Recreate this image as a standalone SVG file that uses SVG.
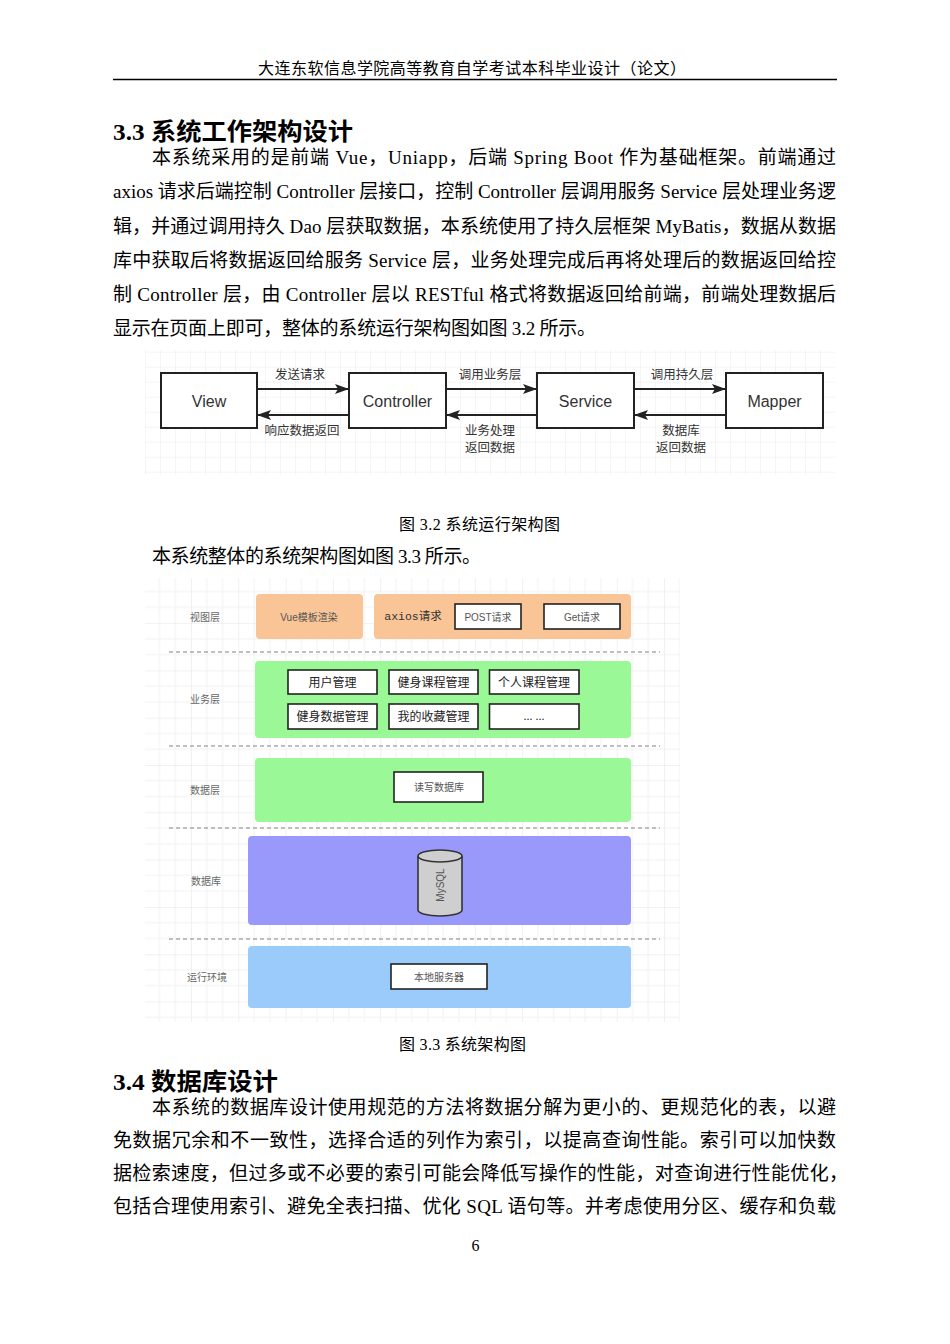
<svg xmlns="http://www.w3.org/2000/svg" width="950" height="1344" viewBox="0 0 950 1344">
<style>
.body{font-family:"Liberation Serif","Noto Sans CJK SC",serif;font-size:19px;fill:#000}
.head{font-family:"Liberation Serif","Noto Sans CJK SC",serif;font-size:24px;font-weight:bold;fill:#000}
.cap{font-family:"Liberation Serif","Noto Sans CJK SC",serif;font-size:16px;fill:#000}
.box{fill:#fff;stroke:#222;stroke-width:2}
.ibox{fill:#fff;stroke:#222;stroke-width:1.6}
.t1{font-family:"Liberation Sans","Noto Sans CJK SC",sans-serif;font-size:16px;fill:#333;text-anchor:middle}
.lbl{font-family:"Liberation Sans","Noto Sans CJK SC",sans-serif;font-size:12.5px;fill:#333;text-anchor:middle}
.conn{stroke:#222;stroke-width:2;fill:none;marker-end:url(#ah)}
.lay{font-family:"Liberation Sans","Noto Sans CJK SC",sans-serif;font-size:10px;fill:#666;text-anchor:middle}
.sm{font-family:"Liberation Sans","Noto Sans CJK SC",sans-serif;font-size:10px;fill:#555;text-anchor:middle}
.biz{font-family:"Liberation Serif","Noto Sans CJK SC",serif;font-size:12px;fill:#222;text-anchor:middle}
.dash{stroke:#aaa;stroke-width:1.5;stroke-dasharray:4 3}
</style>
<defs>
<marker id="ah" viewBox="0 0 14 10" refX="14" refY="5" markerWidth="14" markerHeight="10" markerUnits="userSpaceOnUse" orient="auto">
<path d="M0,0 L14,5 L0,10 L3,5 z" fill="#222"/>
</marker>
<pattern id="g1" x="160" y="441.7" width="15" height="15" patternUnits="userSpaceOnUse">
<path d="M0,0 H15 M0,0 V15" stroke="#ececec" stroke-width="1" fill="none"/>
</pattern>
<pattern id="g2" x="191" y="765" width="47.3" height="47.3" patternUnits="userSpaceOnUse">
<path d="M15.77,0 V47.3 M31.53,0 V47.3 M0,15.77 H47.3 M0,31.53 H47.3" stroke="#f2f2f2" stroke-width="1" fill="none"/>
<path d="M0,0 H47.3 M0,0 V47.3" stroke="#e4e4e4" stroke-width="1" fill="none"/>
</pattern>
</defs>
<rect width="950" height="1344" fill="#fff"/>

<!-- page header -->
<text class="cap" x="258" y="74" textLength="428" lengthAdjust="spacing" font-size="16.5">大连东软信息学院高等教育自学考试本科毕业设计（论文）</text>
<line x1="113" y1="79.5" x2="837" y2="79.5" stroke="#000" stroke-width="1.3"/>

<text class="head" x="113" y="140" textLength="240" lengthAdjust="spacingAndGlyphs">3.3 系统工作架构设计</text>
<text class="body" x="152" y="164" textLength="684" lengthAdjust="spacing">本系统采用的是前端 Vue，Uniapp，后端 Spring Boot 作为基础框架。前端通过</text>
<text class="body" x="113" y="198" textLength="723" lengthAdjust="spacing">axios 请求后端控制 Controller 层接口，控制 Controller 层调用服务 Service 层处理业务逻</text>
<text class="body" x="113" y="232.5" textLength="723" lengthAdjust="spacing">辑，并通过调用持久 Dao 层获取数据，本系统使用了持久层框架 MyBatis，数据从数据</text>
<text class="body" x="113" y="266.5" textLength="723" lengthAdjust="spacing">库中获取后将数据返回给服务 Service 层，业务处理完成后再将处理后的数据返回给控</text>
<text class="body" x="113" y="301" textLength="723" lengthAdjust="spacing">制 Controller 层，由 Controller 层以 RESTful 格式将数据返回给前端，前端处理数据后</text>
<text class="body" x="113" y="335" textLength="483" lengthAdjust="spacing">显示在页面上即可，整体的系统运行架构图如图 3.2 所示。</text>

<!-- figure 3.2 -->
<rect x="145" y="350" width="690" height="125" fill="url(#g1)"/>
<g id="view"><rect class="box" x="161" y="373" width="96" height="55"/><text class="t1" x="209" y="406.5">View</text></g>
<g id="controller"><rect class="box" x="349" y="373" width="97" height="55"/><text class="t1" x="397.5" y="406.5">Controller</text></g>
<g id="service"><rect class="box" x="537" y="373" width="97" height="55"/><text class="t1" x="585.5" y="406.5">Service</text></g>
<g id="mapper"><rect class="box" x="726" y="373" width="97" height="55"/><text class="t1" x="774.5" y="406.5">Mapper</text></g>
<g id="connectors">
<line class="conn" x1="257" y1="389" x2="349" y2="389"/>
<line class="conn" x1="349" y1="415" x2="257" y2="415"/>
<line class="conn" x1="446" y1="389" x2="537" y2="389"/>
<line class="conn" x1="537" y1="415" x2="446" y2="415"/>
<line class="conn" x1="634" y1="389" x2="726" y2="389"/>
<line class="conn" x1="726" y1="415" x2="634" y2="415"/>
<text class="lbl" x="300" y="379">发送请求</text>
<text class="lbl" x="302" y="435">响应数据返回</text>
<text class="lbl" x="490" y="379">调用业务层</text>
<text class="lbl" x="490" y="435">业务处理</text>
<text class="lbl" x="490" y="452">返回数据</text>
<text class="lbl" x="682" y="379">调用持久层</text>
<text class="lbl" x="681" y="435">数据库</text>
<text class="lbl" x="681" y="452">返回数据</text>
</g>

<text class="cap" x="399" y="530" textLength="161" lengthAdjust="spacing">图 3.2 系统运行架构图</text>
<text class="body" x="152" y="563" textLength="329" lengthAdjust="spacing">本系统整体的系统架构图如图 3.3 所示。</text>

<!-- figure 3.3 -->
<rect x="145" y="578" width="535" height="444" fill="url(#g2)"/>
<line class="dash" x1="169" y1="652" x2="660" y2="652"/>
<line class="dash" x1="169" y1="746" x2="660" y2="746"/>
<line class="dash" x1="169" y1="828" x2="660" y2="828"/>
<line class="dash" x1="169" y1="939" x2="660" y2="939"/>

<g id="view-layer">
<text class="lay" x="205" y="621">视图层</text>
<rect x="256" y="594" width="107" height="45" rx="4" fill="#F9C596"/>
<text class="sm" x="309" y="621" fill="#555">Vue模板渲染</text>
<rect x="374" y="594" width="257" height="45" rx="4" fill="#F9C596"/>
<text x="413" y="620" font-family="Liberation Mono,'Noto Sans CJK SC',monospace" font-size="11.5" fill="#333" text-anchor="middle">axios请求</text>
<rect class="ibox" x="455" y="604" width="66" height="25"/>
<text class="sm" x="488" y="620.5" fill="#444">POST请求</text>
<rect class="ibox" x="544" y="604" width="76" height="25"/>
<text class="sm" x="582" y="620.5" fill="#444">Get请求</text>
</g>

<g id="business-layer">
<text class="lay" x="205" y="703">业务层</text>
<rect x="255" y="661" width="376" height="77" rx="4" fill="#9AF996"/>
<rect class="ibox" x="288" y="670" width="89" height="24"/><text class="biz" x="332.5" y="686.5">用户管理</text>
<rect class="ibox" x="389" y="670" width="89" height="24"/><text class="biz" x="433.5" y="686.5">健身课程管理</text>
<rect class="ibox" x="489.5" y="670" width="89.5" height="24"/><text class="biz" x="534" y="686.5">个人课程管理</text>
<rect class="ibox" x="288" y="704" width="89" height="25"/><text class="biz" x="332.5" y="721">健身数据管理</text>
<rect class="ibox" x="389" y="704" width="89" height="25"/><text class="biz" x="433.5" y="721">我的收藏管理</text>
<rect class="ibox" x="489.5" y="704" width="89.5" height="25"/><text class="biz" x="534" y="720" font-size="10">... ...</text>
</g>

<g id="data-layer">
<text class="lay" x="205" y="794">数据层</text>
<rect x="255" y="758" width="376" height="64" rx="4" fill="#9AF996"/>
<rect class="ibox" x="394" y="772" width="89" height="30"/>
<text class="sm" x="439" y="791">读写数据库</text>
</g>

<g id="database">
<text class="lay" x="206" y="885">数据库</text>
<rect x="248" y="836" width="383" height="89" rx="4" fill="#9999FB"/>
<path d="M418,856 V910 A22,6 0 0 0 462,910 V856 A22,6 0 0 0 418,856 Z" fill="#CFCFCF" stroke="#333" stroke-width="1.6"/>
<path d="M418,856 A22,6 0 0 0 462,856" fill="none" stroke="#333" stroke-width="1.6"/>
<text class="sm" transform="translate(443.5,885) rotate(-90)" fill="#444">MySQL</text>
</g>

<g id="runtime">
<text class="lay" x="207" y="981">运行环境</text>
<rect x="248" y="946" width="383" height="62" rx="4" fill="#9ACBFA"/>
<rect class="ibox" x="391" y="964" width="96" height="25"/>
<text class="sm" x="439" y="980.5">本地服务器</text>
</g>

<text class="cap" x="399" y="1050" textLength="127" lengthAdjust="spacing">图 3.3 系统架构图</text>

<text class="head" x="113" y="1090" textLength="165" lengthAdjust="spacingAndGlyphs">3.4 数据库设计</text>
<text class="body" x="152" y="1114" textLength="684" lengthAdjust="spacing">本系统的数据库设计使用规范的方法将数据分解为更小的、更规范化的表，以避</text>
<text class="body" x="113" y="1147" textLength="723" lengthAdjust="spacing">免数据冗余和不一致性，选择合适的列作为索引，以提高查询性能。索引可以加快数</text>
<text class="body" x="113" y="1180" textLength="735" lengthAdjust="spacing">据检索速度，但过多或不必要的索引可能会降低写操作的性能，对查询进行性能优化，</text>
<text class="body" x="113" y="1213" textLength="723" lengthAdjust="spacing">包括合理使用索引、避免全表扫描、优化 SQL 语句等。并考虑使用分区、缓存和负载</text>

<text class="cap" x="475.5" y="1251" font-size="14" text-anchor="middle">6</text>
</svg>
